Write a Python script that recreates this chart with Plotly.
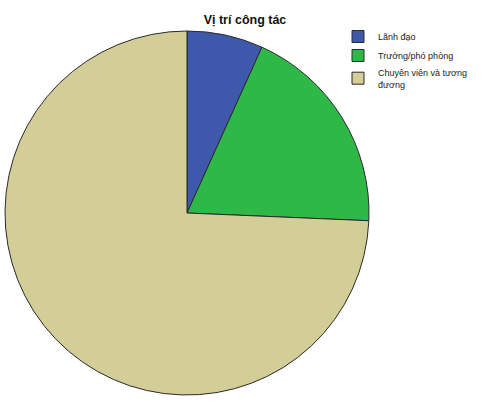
import plotly.graph_objects as go

labels = ["Lãnh đạo", "Trưởng/phó phòng", "Chuyên viên và tương<br>đương"]
counts = [10, 28, 110]
colors = ["#3e58ac", "#2eb848", "#d3ce97"]

W, H = 493, 404
cx, cy, r = 187, 213, 182

fig = go.Figure(go.Pie(
    labels=labels,
    values=counts,
    sort=False,
    direction="clockwise",
    rotation=0,
    textinfo="none",
    hoverinfo="label+value",
    marker=dict(colors=colors, line=dict(color="#2b2b2b", width=1)),
    domain=dict(x=[(cx - r) / W, (cx + r) / W],
                y=[(H - cy - r) / H, (H - cy + r) / H]),
))

fig.update_layout(
    width=W, height=H,
    margin=dict(l=0, r=0, t=0, b=0),
    paper_bgcolor="white",
    plot_bgcolor="white",
    font=dict(family="Liberation Sans, Arial", color="#222"),
    title=dict(text="<b>Vị trí công tác</b>", x=245 / W, xanchor="center",
               y=1 - 20 / H, yanchor="middle", font=dict(size=12.5, color="#111")),
    legend=dict(x=338 / W, y=1 - 22 / H, xanchor="left", yanchor="top",
                font=dict(size=9), itemwidth=30, tracegroupgap=0,
                bgcolor="rgba(0,0,0,0)"),
)

# page body has a default 8px margin; drop it so the figure sits at the corner
fig.write_html("out.html", config={"displayModeBar": False},
               post_script="document.body.style.margin='0';")
